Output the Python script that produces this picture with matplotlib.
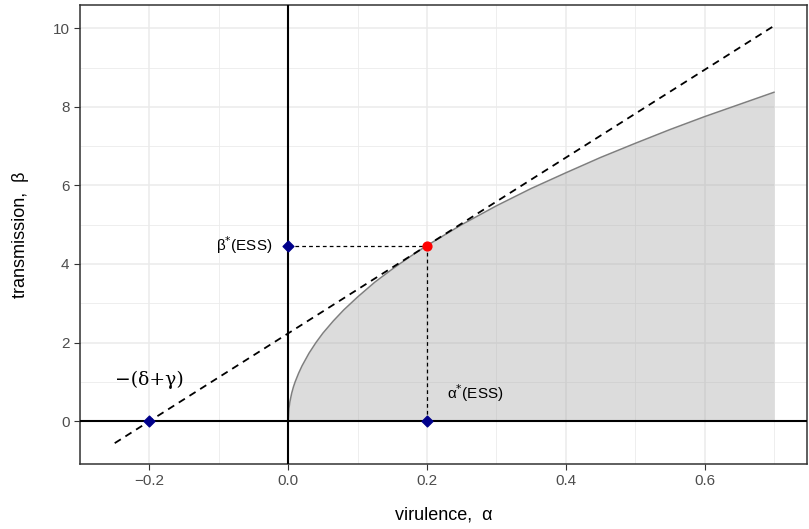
import matplotlib
matplotlib.use("Agg")
import matplotlib.pyplot as plt
import numpy as np

plt.rcParams['font.family'] = ['Liberation Sans', 'DejaVu Sans']

# curve (virulence alpha -> transmission beta)
alpha = [0.0, 0.001, 0.0025, 0.005, 0.0075, 0.01, 0.015, 0.02, 0.03, 0.04, 0.05,
         0.065, 0.08, 0.1, 0.125, 0.15, 0.175, 0.2, 0.25, 0.3, 0.35, 0.4,
         0.45, 0.5, 0.55, 0.6, 0.65, 0.7]
beta = [0.0, 0.32, 0.5, 0.71, 0.87, 1.0, 1.22, 1.41, 1.73, 2.0, 2.24,
        2.55, 2.83, 3.16, 3.54, 3.87, 4.18, 4.47, 5.0, 5.48, 5.92, 6.32,
        6.71, 7.07, 7.42, 7.75, 8.06, 8.37]

# tangent line ends
tan_alpha = [-0.25, 0.7]
tan_beta = [-0.56, 10.06]

# ESS point and intercepts
ess_alpha = 0.2
ess_beta = 4.47
blue_alpha = [-0.2, 0.0, 0.2]
blue_beta = [0.0, 4.47, 0.0]

fig = plt.figure(figsize=(8.09, 5.29), dpi=100)
ax = fig.add_axes([0.0989, 0.1229, 0.8986, 0.8676])

ax.fill_between(alpha, 0, beta, color='#A8A8A8', alpha=0.4, lw=0, zorder=2)
ax.plot(alpha, beta, color='#7F7F7F', lw=1.1, zorder=3)

ax.axhline(0, color='black', lw=1.5, zorder=3)
ax.axvline(0, color='black', lw=1.5, zorder=3)

ax.plot(tan_alpha, tan_beta, color='black', lw=1.3, ls=(0, (4, 3)), zorder=4)
ax.plot([0, ess_alpha], [ess_beta, ess_beta], color='black', lw=0.9, ls=(0, (3, 2.5)), zorder=4)
ax.plot([ess_alpha, ess_alpha], [0, ess_beta], color='black', lw=0.9, ls=(0, (3, 2.5)), zorder=4)

ax.scatter(blue_alpha, blue_beta, marker='D', s=30, color='#00008B', zorder=5)
ax.scatter([ess_alpha], [ess_beta], marker='o', s=40, color='red', zorder=6)

ax.text(-0.2, 1.05, '−(δ+γ)', fontsize=13.5, ha='center', va='center',
        family=['DejaVu Serif'])
ax.text(-0.022, ess_beta, 'β$^{*}$(ESS)', fontsize=11, ha='right', va='center',
        math_fontfamily='dejavusans')
ax.text(0.229, 0.71, 'α$^{*}$(ESS)', fontsize=11, ha='left', va='center',
        math_fontfamily='dejavusans')

ax.set_xlim(-0.2975, 0.7475)
ax.set_ylim(-1.09, 10.59)
ax.set_xticks([-0.2, 0.0, 0.2, 0.4, 0.6])
ax.set_xticklabels(['−0.2', '0.0', '0.2', '0.4', '0.6'])
ax.set_yticks([0, 2, 4, 6, 8, 10])
ax.set_xticks([-0.3, -0.1, 0.1, 0.3, 0.5, 0.7], minor=True)
ax.set_yticks([1, 3, 5, 7, 9], minor=True)

ax.grid(which='major', color='#EBEBEB', lw=1.1, zorder=0)
ax.grid(which='minor', color='#EBEBEB', lw=0.6, zorder=0)
ax.set_axisbelow(True)
ax.tick_params(which='major', length=4, color='#333333', labelsize=11, labelcolor='#4D4D4D')
ax.tick_params(which='minor', length=0)
for s in ax.spines.values():
    s.set_color('#333333')
    s.set_linewidth(1.1)

ax.set_xlabel('virulence,  α', fontsize=13, labelpad=13)
ax.set_ylabel('transmission,  β', fontsize=13, labelpad=17)

fig.savefig('out.png', dpi=100)
